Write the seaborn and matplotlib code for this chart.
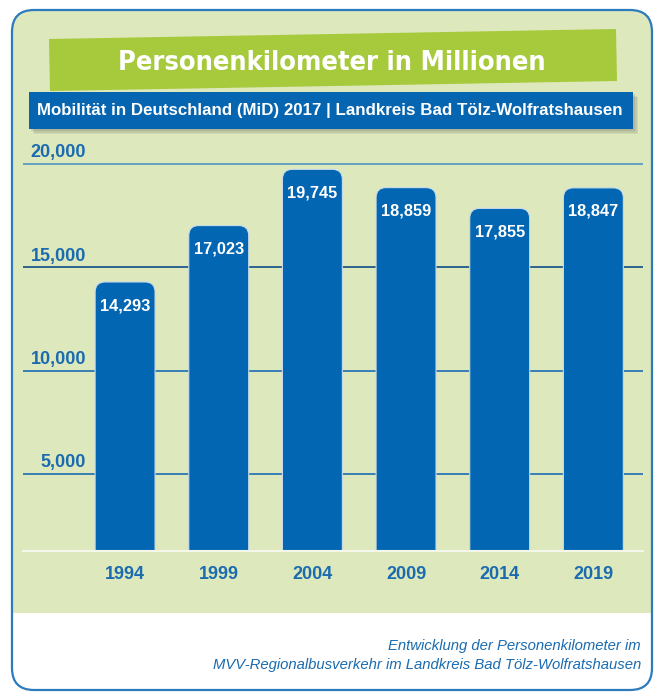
import matplotlib
matplotlib.use("Agg")
import matplotlib.pyplot as plt
import matplotlib.patches as mpatches
import seaborn as sns

# -----------------------------
# Data
# -----------------------------
years = ["1994", "1999", "2004", "2009", "2014", "2019"]
values = [14293, 17023, 19745, 18859, 17855, 18847]
ytick_values = [5000, 10000, 15000, 20000]
ytick_labels = ["5,000", "10,000", "15,000", "20,000"]

title = "Personenkilometer in Millionen"
subtitle = "Mobilität in Deutschland (MiD) 2017 | Landkreis Bad Tölz-Wolfratshausen"
footer = ["Entwicklung der Personenkilometer im",
          "MVV-Regionalbusverkehr im Landkreis Bad Tölz-Wolfratshausen"]

# colours
BG_GREEN = "#dde8bd"
BANNER_GREEN = "#a6ca3b"
BLUE = "#0366b2"
TEXT_BLUE = "#1a6bb0"
BORDER = "#2b7bbd"

REGULAR = ["Liberation Sans", "DejaVu Sans"]

sns.set_theme(style="white")
plt.rcParams["font.family"] = REGULAR

W, H = 654, 693
fig = plt.figure(figsize=(W / 100, H / 100), dpi=100)

# -----------------------------
# Background panel (pixel coordinates)
# -----------------------------
bg = fig.add_axes([0, 0, 1, 1])
bg.set_xlim(0, W)
bg.set_ylim(H, 0)
bg.axis("off")

frame = mpatches.FancyBboxPatch((12, 10), 640, 680,
                                boxstyle="round,pad=0,rounding_size=22",
                                facecolor=BG_GREEN, edgecolor="none")
bg.add_patch(frame)
white = mpatches.Rectangle((0, 613), W, 100, facecolor="white", edgecolor="none")
bg.add_patch(white)
white.set_clip_path(frame)
bg.add_patch(mpatches.FancyBboxPatch((12, 10), 640, 680,
                                     boxstyle="round,pad=0,rounding_size=22",
                                     facecolor="none", edgecolor=BORDER, lw=1.6))

# tilted green title banner
bg.add_patch(mpatches.Polygon([(49, 39), (616, 29), (617, 81), (50, 91)],
                              closed=True, facecolor=BANNER_GREEN, edgecolor="none"))
bg.text(332, 63, title, ha="center", va="center", color="white",
        fontsize=19.5, fontweight="bold", family="DejaVu Sans", fontstretch="condensed")

# blue subtitle banner with soft shadow
for i, a in enumerate([0.10, 0.12, 0.15]):
    d = 5 - i * 1.5
    bg.add_patch(mpatches.Rectangle((29 + d, 92 + d), 604, 37,
                                    facecolor="#555555", alpha=a, edgecolor="none"))
bg.add_patch(mpatches.Rectangle((29, 92), 604, 37, facecolor="#0565b0", edgecolor="none"))
bg.text(330, 111, subtitle, ha="center", va="center", color="white",
        fontsize=12.2, fontweight="bold")

# footer
bg.text(641, 646, footer[0], ha="right", va="center", color=TEXT_BLUE,
        fontsize=10.7, style="italic")
bg.text(641, 665, footer[1], ha="right", va="center", color=TEXT_BLUE,
        fontsize=10.7, style="italic")

# -----------------------------
# Bar chart
# -----------------------------
ax = fig.add_axes([23 / W, 1 - 551 / H, 620 / W, (551 - 150) / H])
ax.patch.set_alpha(0)

sns.barplot(x=years, y=values, color=BLUE, width=0.64, saturation=1, ax=ax, zorder=2)

ax.set_xlim(-1.09, 5.53)
ax.set_ylim(1273, 20680)

# rounded bar tops
px_x = 620 / (5.53 + 1.09)
px_y = (551 - 150) / (20680 - 1273)
r = 10 / px_x
aspect = (10 / px_y) / r
for p in list(ax.patches):
    x0, w, h = p.get_x(), p.get_width(), p.get_height()
    p.remove()
    ax.add_patch(mpatches.FancyBboxPatch((x0, 0), w, h,
                                         boxstyle=f"round,pad=0,rounding_size={r}",
                                         mutation_aspect=aspect,
                                         facecolor=BLUE, edgecolor="#c9dcea",
                                         lw=0.8, zorder=2))

for i, v in enumerate(values):
    ax.annotate(f"{v:,}", (i, v), xytext=(0, -17), textcoords="offset points",
                ha="center", va="center", color="white", fontsize=11.8,
                fontweight="bold", zorder=3)

# grid lines and y labels
line_colors = ["#2a77b5", "#2a77b5", "#1d5a8c", "#5b9bc4"]
for yv, lab, c in zip(ytick_values, ytick_labels, line_colors):
    ax.axhline(yv, color=c, lw=1.3, zorder=1)
    ax.annotate(lab, (0.1016, yv), xycoords=ax.get_yaxis_transform(),
                xytext=(0, 2), textcoords="offset points",
                ha="right", va="bottom", color=TEXT_BLUE, fontsize=13,
                fontweight="bold")

ax.set_yticks([])
ax.set_xlabel("")
ax.set_ylabel("")
for s in ["top", "left", "right"]:
    ax.spines[s].set_visible(False)
ax.spines["bottom"].set_color("#f4f7ea")
ax.spines["bottom"].set_linewidth(1.5)
ax.spines["bottom"].set_zorder(4)
ax.tick_params(axis="x", length=0, pad=11)
for t in ax.get_xticklabels():
    t.set_color(TEXT_BLUE)
    t.set_fontsize(13)
    t.set_fontweight("bold")

fig.savefig("out.png", dpi=100)
